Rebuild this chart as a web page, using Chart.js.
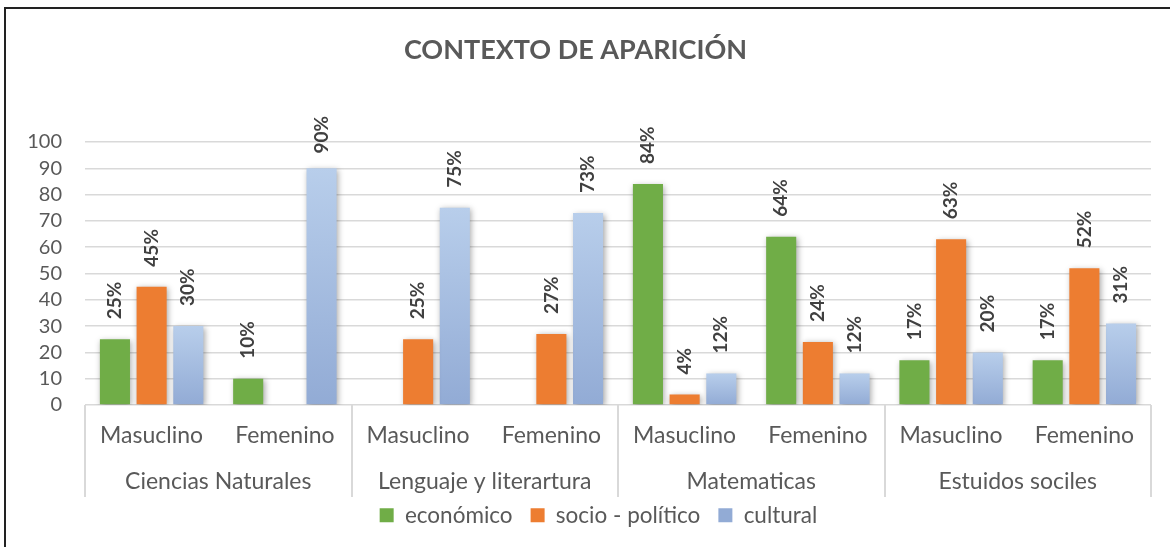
<!DOCTYPE html>
<html>
<head>
<meta charset="utf-8">
<script src="https://cdn.jsdelivr.net/npm/chart.js@4.4.1/dist/chart.umd.min.js"></script>
<style>
html, body { margin: 0; padding: 0; background: #fff; overflow: hidden; }
#wrap { position: relative; width: 1170px; height: 547px; }
#frame { position: absolute; left: 4px; top: 7px; width: 1300px; height: 700px; border: 2.5px solid #222; pointer-events: none; }
canvas { position: absolute; left: 0; top: 0; }
</style>
</head>
<body>
<div id="wrap">
  <canvas id="myChart" width="1170" height="547"></canvas>
  <div id="frame"></div>
</div>
<script>
const subjects = ['Ciencias Naturales', 'Lenguaje y literartura', 'Matematicas', 'Estuidos sociles'];
const genders = ['Masuclino', 'Femenino', 'Masuclino', 'Femenino', 'Masuclino', 'Femenino', 'Masuclino', 'Femenino'];

const economico = [25, 10, null, null, 84, 64, 17, 17];
const sociopolitico = [45, null, 25, 27, 4, 24, 63, 52];
const cultural = [30, 90, 75, 73, 12, 12, 20, 31];

const yMin = 0;
const yMax = 100;
const yStep = 10;

const FONT = 'Lato';
const GREY = '#595959';

// degradado azul de cada barra (claro arriba, mas oscuro abajo)
function culturalFill(c) {
    const chart = c.chart;
    if (!chart.chartArea || c.dataIndex === undefined || c.raw == null) return '#a9c1e5';
    const y = chart.scales.y;
    const top = y.getPixelForValue(c.raw);
    const bottom = y.getPixelForValue(0);
    const g = chart.ctx.createLinearGradient(0, top, 0, bottom);
    g.addColorStop(0, '#b8ceeb');
    g.addColorStop(1, '#92abd5');
    return g;
}

const barShadow = {
    id: 'barShadow',
    beforeDatasetsDraw(chart) {
        const ctx = chart.ctx;
        ctx.save();
        ctx.shadowColor = 'rgba(0,0,0,0.35)';
        ctx.shadowBlur = 6;
        ctx.shadowOffsetX = 1.5;
        ctx.shadowOffsetY = 1.5;
    },
    afterDatasetsDraw(chart) {
        chart.ctx.restore();
    }
};

const valueLabels = {
    id: 'valueLabels',
    afterDraw(chart) {
        const ctx = chart.ctx;
        const top = chart.chartArea.top;
        ctx.save();
        ctx.font = 'bold 19px ' + FONT;
        ctx.fillStyle = '#404040';
        ctx.textAlign = 'left';
        ctx.textBaseline = 'middle';
        chart.data.datasets.forEach((ds, i) => {
            chart.getDatasetMeta(i).data.forEach((bar, j) => {
                const v = ds.data[j];
                if (v == null || v === 0) return;
                const txt = v + '%';
                const w = ctx.measureText(txt).width;
                let start = bar.y - 20;
                if (start - w < top - 26) start = top - 26 + w;
                ctx.save();
                ctx.translate(bar.x, start);
                ctx.rotate(-Math.PI / 2);
                ctx.fillText(txt, 0, 0);
                ctx.restore();
            });
        });
        ctx.restore();
    }
};

// lineas que separan las materias bajo el eje
const groupLines = {
    id: 'groupLines',
    afterDraw(chart) {
        const x = chart.scales.x;
        const x2 = chart.scales.x2;
        const ctx = chart.ctx;
        const step = (x.right - x.left) / subjects.length;
        ctx.save();
        ctx.strokeStyle = '#d9d9d9';
        ctx.lineWidth = 2;
        ctx.beginPath();
        for (let i = 0; i <= subjects.length; i++) {
            const px = Math.round(x.left + i * step);
            ctx.moveTo(px, x.top);
            ctx.lineTo(px, x2.bottom);
        }
        ctx.stroke();
        ctx.restore();
    }
};

// sube un poco la leyenda (en Excel esta mas pegada al eje)
const legendUp = {
    id: 'legendUp',
    afterLayout(chart) {
        const lg = chart.legend;
        if (!lg) return;
        lg.top -= 11;
        lg.bottom -= 11;
        lg.left += 23;
        lg.right += 23;
    }
};

const ctx = document.getElementById('myChart');
const myChart = new Chart(ctx, {
    type: 'bar',
    data: {
        labels: genders,
        datasets: [
            { label: 'económico', data: economico, backgroundColor: '#70ad47' },
            { label: 'socio - político', data: sociopolitico, backgroundColor: '#ed7d31' },
            { label: 'cultural', data: cultural, backgroundColor: culturalFill }
        ]
    },
    options: {
        responsive: false,
        animation: false,
        devicePixelRatio: 1,
        categoryPercentage: 0.826,
        barPercentage: 0.82,
        layout: {
            padding: { left: 0, right: 19, top: 0, bottom: -0.5 }
        },
        scales: {
            y: {
                min: yMin,
                max: yMax,
                afterFit(s) { s.width = 85; },
                ticks: {
                    stepSize: yStep,
                    autoSkip: false,
                    color: GREY,
                    font: { family: FONT, size: 20 },
                    padding: 23
                },
                grid: { color: '#d9d9d9', lineWidth: 1.5, drawTicks: false },
                border: { display: false }
            },
            x: {
                afterFit(s) { s.height = 54; },
                ticks: {
                    color: GREY,
                    font: { family: FONT, size: 23 },
                    padding: 17,
                    maxRotation: 0,
                    autoSkip: false
                },
                grid: { display: false, drawTicks: false },
                border: { display: false }
            },
            x2: {
                type: 'category',
                labels: subjects,
                min: subjects[0],
                max: subjects[subjects.length - 1],
                offset: true,
                position: 'bottom',
                afterFit(s) { s.height = 38; },
                ticks: {
                    color: GREY,
                    font: { family: FONT, size: 23 },
                    padding: 9,
                    maxRotation: 0,
                    autoSkip: false
                },
                grid: { display: false, drawTicks: false },
                border: { display: false }
            }
        },
        plugins: {
            title: {
                display: true,
                text: 'CONTEXTO DE APARICIÓN',
                color: GREY,
                font: { family: FONT, size: 27, weight: 'bold' },
                padding: { top: 34, bottom: 75.6 }
            },
            legend: {
                position: 'bottom',
                labels: {
                    boxWidth: 14,
                    boxHeight: 14,
                    color: GREY,
                    font: { family: FONT, size: 22.5 },
                    padding: 18
                }
            },
            tooltip: { enabled: false }
        }
    },
    plugins: [barShadow, valueLabels, groupLines, legendUp]
});
</script>
</body>
</html>
